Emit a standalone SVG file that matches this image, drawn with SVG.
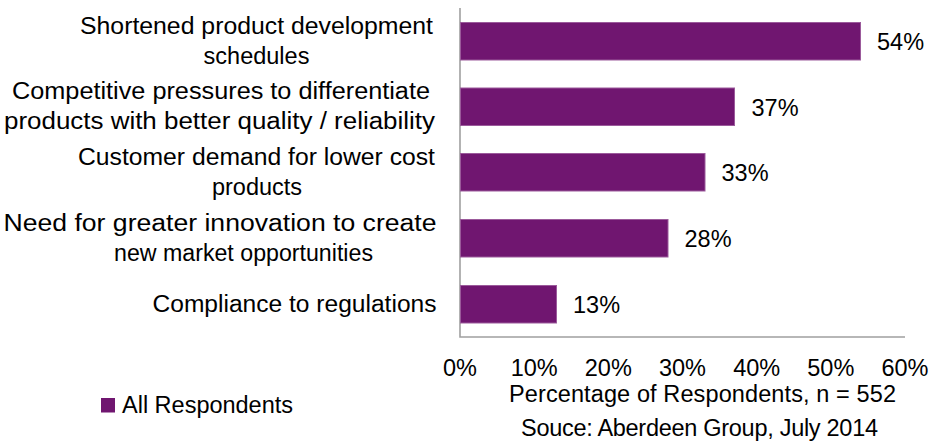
<svg xmlns="http://www.w3.org/2000/svg" width="929" height="441" viewBox="0 0 929 441">
<style>
text { font-family: "Liberation Sans", Arial, sans-serif; font-size: 23.5px; fill: #000; }
.cat { text-anchor: middle; }
.val { text-anchor: start; }
.tick { text-anchor: middle; }
.bar { fill: #701670; stroke: #9b5a9b; stroke-width: 1; }
.axis { stroke: #a0a0a0; stroke-width: 1.6; fill: none; }
</style>
<rect width="929" height="441" fill="#fff"/>
<g id="axes">
  <path class="axis" d="M460 8 V337 H905"/>
</g>
<g id="bars">
  <rect class="bar" x="460.5" y="22.5" width="400" height="37.5"/>
  <rect class="bar" x="460.5" y="88" width="274" height="37.5"/>
  <rect class="bar" x="460.5" y="153.5" width="244.5" height="37.5"/>
  <rect class="bar" x="460.5" y="219.5" width="207.5" height="37.5"/>
  <rect class="bar" x="460.5" y="285.5" width="96" height="37.5"/>
</g>
<g id="values">
  <text class="val" x="877" y="50">54%</text>
  <text class="val" x="751.5" y="115.5">37%</text>
  <text class="val" x="721.5" y="181">33%</text>
  <text class="val" x="684.5" y="247">28%</text>
  <text class="val" x="573" y="312.5">13%</text>
</g>
<g id="categories">
  <g id="cat1">
    <text class="cat" x="256.5" y="34" textLength="353" lengthAdjust="spacingAndGlyphs">Shortened product development</text>
    <text class="cat" x="256.5" y="64">schedules</text>
  </g>
  <g id="cat2">
    <text class="cat" x="221" y="99" textLength="418" lengthAdjust="spacingAndGlyphs">Competitive pressures to differentiate</text>
    <text class="cat" x="219.5" y="129" textLength="431" lengthAdjust="spacingAndGlyphs">products with better quality / reliability</text>
  </g>
  <g id="cat3">
    <text class="cat" x="256.5" y="165" textLength="357" lengthAdjust="spacingAndGlyphs">Customer demand for lower cost</text>
    <text class="cat" x="257" y="195">products</text>
  </g>
  <g id="cat4">
    <text class="cat" x="220" y="231" textLength="433" lengthAdjust="spacingAndGlyphs">Need for greater innovation to create</text>
    <text class="cat" x="243.5" y="261" textLength="259" lengthAdjust="spacingAndGlyphs">new market opportunities</text>
  </g>
  <g id="cat5">
    <text class="cat" x="294.5" y="312" textLength="284" lengthAdjust="spacingAndGlyphs">Compliance to regulations</text>
  </g>
</g>
<g id="ticks">
  <text class="tick" x="460" y="376">0%</text>
  <text class="tick" x="534.2" y="376">10%</text>
  <text class="tick" x="608.3" y="376">20%</text>
  <text class="tick" x="682.5" y="376">30%</text>
  <text class="tick" x="756.7" y="376">40%</text>
  <text class="tick" x="830.8" y="376">50%</text>
  <text class="tick" x="905" y="376">60%</text>
</g>
<g id="axis-title">
  <text class="tick" x="702.5" y="402" textLength="387">Percentage of Respondents, n = 552</text>
  <text class="tick" x="699.5" y="436" textLength="357">Souce: Aberdeen Group, July 2014</text>
</g>
<g id="legend">
  <rect x="101" y="398" width="14" height="14.5" fill="#701670"/>
  <text x="122" y="413" textLength="171">All Respondents</text>
</g>
</svg>
